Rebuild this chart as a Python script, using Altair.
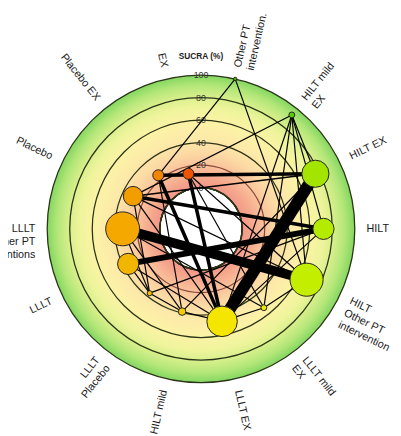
import math
import altair as alt
import pandas as pd

# ---------------- data ----------------
treatments = [
    "Other PT\nintervention.", "HILT mild\nEX", "HILT EX", "HILT",
    "HILT\nOther PT\nintervention", "LLLT mild\nEX", "LLLT EX", "HILT mild",
    "LLLT\nPlacebo", "LLLT", "LLLT\nOther PT\ninterventions", "Placebo",
    "Placebo EX", "EX",
]
keys = ["OPT", "HmEX", "HEX", "H", "HOPT", "LmEX", "LEX", "Hm",
        "LP", "L", "LOPT", "P", "PEX", "EX"]
sucra = [100, 92.8, 76.2, 72.2, 67.5, 53.0, 47.7, 38.8, 36.5, 35.2, 33.0, 30.4, 24.3, 13.6]
node_weight = [4, 12, 256, 156, 380, 12, 324, 20, 9, 156, 400, 132, 42, 42]

edge_from = ["LEX", "LOPT", "L", "P", "PEX", "EX", "PEX", "P",
             "OPT", "OPT", "HmEX", "HmEX", "HmEX", "HmEX", "HmEX", "HmEX",
             "P", "P", "P", "LOPT", "LOPT", "LOPT", "L", "L", "LP", "LP",
             "Hm", "Hm", "LmEX", "LmEX", "LmEX", "LEX", "EX", "PEX"]
edge_to = ["HEX", "HOPT", "H", "H", "HEX", "LEX", "LEX", "HEX",
           "PEX", "HOPT", "HEX", "H", "LmEX", "LEX", "P", "HOPT",
           "HOPT", "LEX", "LP", "LP", "Hm", "LmEX", "LP", "LEX", "H", "Hm",
           "HEX", "LEX", "HOPT", "LEX", "EX", "H", "HOPT", "Hm"]
edge_studies = [10, 8, 5, 3, 3, 3, 3, 1.3,
                1, 1, 1, 1, 1, 1, 1, 1,
                1, 1, 1, 1, 1, 1, 1, 1, 1, 1,
                1, 1, 1, 1, 1, 1, 1, 1]

ring_levels = [20, 40, 60, 80, 100]
tick_levels = [0, 20, 40, 60, 80, 100]
gradient_levels = list(range(100, -1, -1))

# ---------------- layout ----------------
R0, R1 = 42, 157          # pixel radius of SUCRA 0 and 100
LABEL_R = 169
N = len(treatments)


def rad(s):
    return R0 + (R1 - R0) * s / 100.0


rows = []
for i, (lab, k, s, w) in enumerate(zip(treatments, keys, sucra, node_weight)):
    th = (i + 0.5) * 2 * math.pi / N
    deg = math.degrees(th)
    r = rad(s)
    right = deg < 180
    rot = (deg - 90) if right else (deg - 270)
    rows.append(dict(key=k, label=lab, sucra=s, weight=w,
                     x=r * math.sin(th), y=r * math.cos(th),
                     lx=LABEL_R * math.sin(th), ly=LABEL_R * math.cos(th),
                     rot=rot % 360, side="R" if right else "L"))
nodes = pd.DataFrame(rows)
pos = nodes.set_index("key")

edges = pd.DataFrame(dict(a=edge_from, b=edge_to, n=edge_studies))
edges["x"] = edges["a"].map(pos["x"])
edges["y"] = edges["a"].map(pos["y"])
edges["x2"] = edges["b"].map(pos["x"])
edges["y2"] = edges["b"].map(pos["y"])

bg = pd.DataFrame(dict(s=gradient_levels, cx=0, cy=0))
rings = pd.DataFrame(dict(s=ring_levels, cx=0, cy=0))
inner = pd.DataFrame(dict(s=[0], cx=0, cy=0))
ticks = pd.DataFrame(dict(s=tick_levels, x=0, y=[rad(v) for v in tick_levels],
                          t=[str(v) for v in tick_levels]))
title = pd.DataFrame(dict(x=[0], y=[rad(100) + 19], t=["SUCRA (%)"]))

xs = alt.Scale(domain=[-197, 196], nice=False, zero=False)
ys = alt.Scale(domain=[-207, 221], nice=False, zero=False)
rs = alt.Scale(type="linear", domain=[0, 100], range=[R0, R1], zero=False, nice=False)

X = lambda f: alt.X(f, type="quantitative", scale=xs, axis=None)
Y = lambda f: alt.Y(f, type="quantitative", scale=ys, axis=None)
RAD = alt.Radius("s:Q", scale=rs, stack=None)

FONT = "Liberation Sans"
FULL = dict(theta=alt.value(0), theta2=alt.value(2 * math.pi))

background = alt.Chart(bg).mark_arc(strokeWidth=0).encode(
    x=X("cx"), y=Y("cy"), **FULL, radius=RAD,
    fill=alt.Fill("s:Q", legend=None, scale=alt.Scale(
        domain=[0, 8, 20, 32, 45, 60, 72, 82, 92, 100],
        range=["#f2958a", "#f5a68c", "#f9c29c", "#fcdaa4", "#fdeaa9",
               "#fbf3a6", "#eff49c", "#d6ef8b", "#b2e679", "#86d862"],
        interpolate="rgb")),
)

white = alt.Chart(inner).mark_arc(fill="white", strokeWidth=0).encode(
    x=X("cx"), y=Y("cy"), **FULL, radius=RAD,
)

ring_lines = alt.Chart(rings).mark_arc(filled=False, strokeWidth=1.3).encode(
    x=X("cx"), y=Y("cy"), **FULL, radius=RAD,
    stroke=alt.condition(alt.datum.s == 20, alt.value("#8a4a3a"), alt.value("#2c3418")),
)

tick_text = alt.Chart(ticks).mark_text(font=FONT, fontSize=9, color="#333333",
                                       baseline="middle", align="center").encode(
    x=X("x"), y=Y("y"), text="t:N")

title_text = alt.Chart(title).mark_text(font=FONT, fontSize=8.5, fontWeight="bold",
                                        color="#222222", baseline="middle",
                                        align="center").encode(
    x=X("x"), y=Y("y"), text="t:N")

edge_lines = alt.Chart(edges).mark_rule(color="black", strokeCap="butt").encode(
    x=X("x"), y=Y("y"), x2="x2:Q", y2="y2:Q",
    strokeWidth=alt.StrokeWidth("n:Q", legend=None,
                                scale=alt.Scale(domain=[0, 10], range=[0, 12])),
)

node_pts = alt.Chart(nodes).mark_circle(opacity=1, stroke="#222222", strokeWidth=1).encode(
    x=X("x"), y=Y("y"),
    size=alt.Size("weight:Q", legend=None,
                  scale=alt.Scale(domain=[0, 400], range=[0, 1200])),
    color=alt.Color("sucra:Q", legend=None, scale=alt.Scale(
        domain=[10, 24, 33, 40, 50, 70, 100],
        range=["#ee4400", "#f28400", "#f4a800", "#f2d400", "#f4ec00",
               "#bdee00", "#3fc000"],
        interpolate="rgb")),
    order=alt.Order("weight:Q"),
)

labels_r = alt.Chart(nodes).transform_filter(alt.datum.side == "R").mark_text(
    font=FONT, fontSize=11, color="#1a1a1a", align="left", baseline="middle",
    lineBreak="\n", lineHeight=13.5).encode(
    x=X("lx"), y=Y("ly"), text="label:N", angle=alt.Angle("rot:Q", scale=None))

labels_l = alt.Chart(nodes).transform_filter(alt.datum.side == "L").mark_text(
    font=FONT, fontSize=11, color="#1a1a1a", align="right", baseline="middle",
    lineBreak="\n", lineHeight=13.5).encode(
    x=X("lx"), y=Y("ly"), text="label:N", angle=alt.Angle("rot:Q", scale=None))

chart = alt.layer(
    background, white, ring_lines, tick_text, title_text, edge_lines, node_pts,
    labels_r, labels_l,
).resolve_scale(fill="independent", color="independent", stroke="independent").properties(
    width=393, height=428, autosize=alt.AutoSizeParams(type="none"), padding=0,
    background="white",
).configure_view(stroke=None)

chart.save("out.html", embed_options={"renderer": "svg", "actions": False})
